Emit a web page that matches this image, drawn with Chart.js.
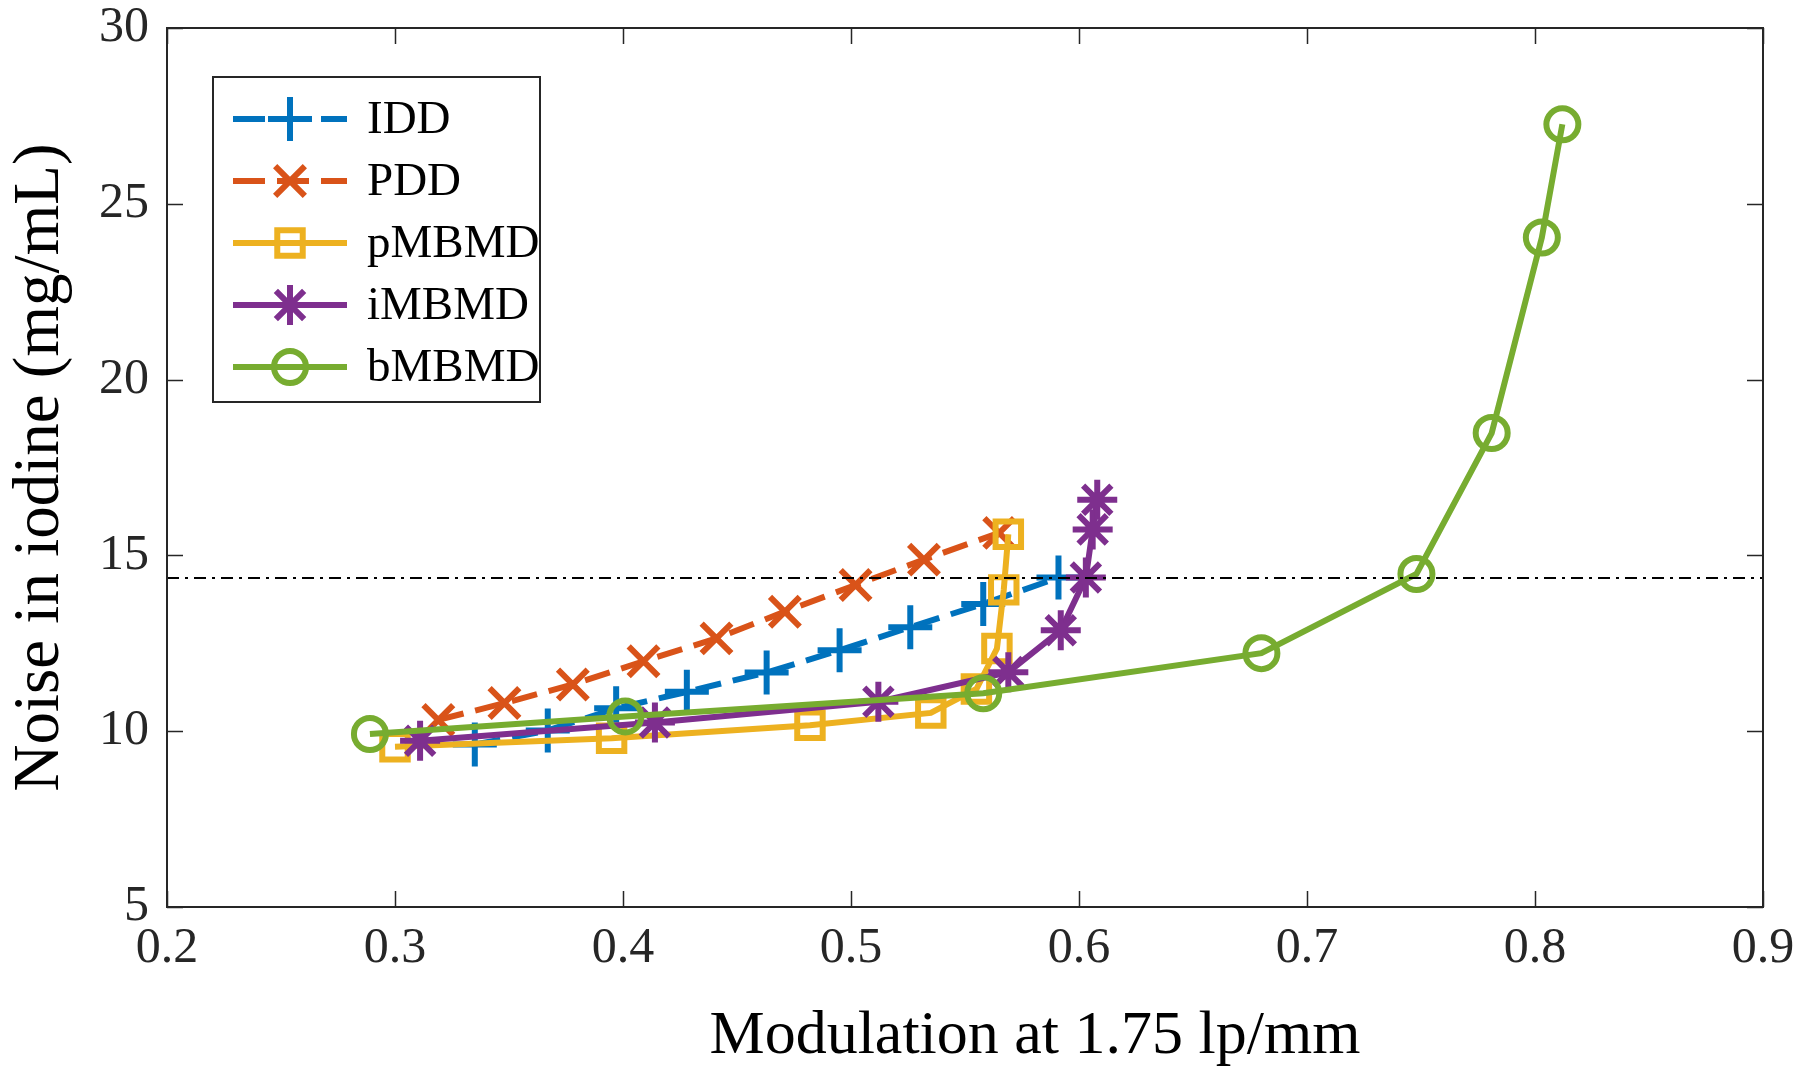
<!DOCTYPE html>
<html>
<head>
<meta charset="utf-8">
<script src="https://cdn.jsdelivr.net/npm/chart.js@4.4.0/dist/chart.umd.min.js"></script>
<style>
  html, body { margin: 0; padding: 0; background: #fff; }
</style>
</head>
<body>
<canvas id="noiseChart" width="1800" height="1078"></canvas>
<script>
// values (modulation at 1.75 lp/mm vs noise in iodine)
const seriesNames = ['IDD', 'PDD', 'pMBMD', 'iMBMD', 'bMBMD'];

const xIDD = [0.335, 0.367, 0.397, 0.428, 0.463, 0.495, 0.526, 0.558, 0.591];
const yIDD = [9.62, 10.02, 10.65, 11.12, 11.67, 12.30, 12.96, 13.62, 14.37];

const xPDD = [0.319, 0.348, 0.378, 0.409, 0.441, 0.471, 0.502, 0.532, 0.565];
const yPDD = [10.32, 10.80, 11.33, 11.99, 12.64, 13.40, 14.16, 14.88, 15.64];

const xPMBMD = [0.300, 0.395, 0.482, 0.535, 0.555, 0.564, 0.567, 0.569];
const yPMBMD = [9.56, 9.80, 10.17, 10.52, 11.20, 12.35, 14.02, 15.60];

const xIMBMD = [0.311, 0.414, 0.512, 0.569, 0.592, 0.603, 0.606, 0.608];
const yIMBMD = [9.73, 10.25, 10.84, 11.68, 12.87, 14.37, 15.74, 16.58];

const xBMBMD = [0.289, 0.401, 0.558, 0.680, 0.748, 0.781, 0.803, 0.812];
const yBMBMD = [9.92, 10.42, 11.08, 12.22, 14.47, 18.48, 24.04, 27.26];

const thresholdY = 14.36;
const xRange = [0.2, 0.9];
const yRange = [5, 30];

const FONT = '"Liberation Serif", "Times New Roman", serif';
const INK = '#262626';

function pts(xs, ys) {
    return xs.map((x, i) => ({ x: x, y: ys[i] }));
}

const styles = [
    { color: '#0072BD', point: 'cross',    radius: 22, dash: [26, 12] },
    { color: '#D95319', point: 'crossRot', radius: 21, dash: [26, 12] },
    { color: '#EDB120', point: 'rect',     radius: 18, dash: [] },
    { color: '#7E2F8E', point: 'star',     radius: 20, dash: [] },
    { color: '#77AC30', point: 'circle',   radius: 16, dash: [] }
];
const seriesData = [pts(xIDD, yIDD), pts(xPDD, yPDD), pts(xPMBMD, yPMBMD), pts(xIMBMD, yIMBMD), pts(xBMBMD, yBMBMD)];

const datasets = seriesNames.map((name, i) => ({
    label: name,
    data: seriesData[i],
    showLine: true,
    borderColor: styles[i].color,
    backgroundColor: 'rgba(0,0,0,0)',
    borderWidth: 6,
    borderDash: styles[i].dash,
    pointStyle: styles[i].point,
    pointRadius: styles[i].radius,
    pointBorderWidth: 6,
    pointBorderColor: styles[i].color,
    pointBackgroundColor: 'rgba(0,0,0,0)',
    order: 5 - i
}));

// horizontal dash-dot reference line
datasets.push({
    label: 'threshold',
    data: [{ x: xRange[0], y: thresholdY }, { x: xRange[1], y: thresholdY }],
    showLine: true,
    borderColor: '#000',
    borderWidth: 2,
    borderDash: [12, 6, 3, 6],
    pointRadius: 0,
    order: 0
});

// box, inward ticks, x title and legend drawn like the MATLAB figure
const matlabAxes = {
    id: 'matlabAxes',
    afterDraw(chart) {
        const ctx = chart.ctx;
        const ca = chart.chartArea;
        const xs = chart.scales.x, ys = chart.scales.y;
        ctx.save();
        ctx.strokeStyle = INK;
        ctx.lineWidth = 2;
        ctx.setLineDash([]);
        ctx.strokeRect(ca.left, ca.top, ca.right - ca.left, ca.bottom - ca.top);
        const tl = 16;
        ctx.beginPath();
        xs.ticks.forEach(t => {
            const px = Math.round(xs.getPixelForValue(t.value)) + 0.5;
            ctx.moveTo(px, ca.bottom); ctx.lineTo(px, ca.bottom - tl);
            ctx.moveTo(px, ca.top); ctx.lineTo(px, ca.top + tl);
        });
        ys.ticks.forEach(t => {
            const py = Math.round(ys.getPixelForValue(t.value)) + 0.5;
            ctx.moveTo(ca.left, py); ctx.lineTo(ca.left + tl, py);
            ctx.moveTo(ca.right, py); ctx.lineTo(ca.right - tl, py);
        });
        ctx.lineWidth = 1.5;
        ctx.stroke();

        // x axis title (sits right of centre in the original)
        ctx.fillStyle = '#000';
        ctx.font = '62px ' + FONT;
        ctx.textAlign = 'center';
        ctx.textBaseline = 'middle';
        ctx.fillText('Modulation at 1.75 lp/mm', (ca.left + ca.right) / 2 + 70, ca.bottom + 130);

        // legend
        const bx = ca.left + 46, by = ca.top + 49, bw = 327, bh = 325;
        ctx.fillStyle = '#fff';
        ctx.fillRect(bx, by, bw, bh);
        ctx.strokeStyle = INK;
        ctx.lineWidth = 2;
        ctx.strokeRect(bx, by, bw, bh);
        seriesNames.forEach((name, i) => {
            const cy = by + 42 + i * 62;
            const st = styles[i];
            ctx.strokeStyle = st.color;
            ctx.lineWidth = 6;
            ctx.setLineDash(st.dash.length ? [32, 12] : []);
            ctx.beginPath();
            ctx.moveTo(bx + 20, cy);
            ctx.lineTo(bx + 134, cy);
            ctx.stroke();
            ctx.setLineDash([]);
            ctx.fillStyle = 'rgba(0,0,0,0)';
            Chart.helpers.drawPoint(ctx, { pointStyle: st.point, radius: st.radius, borderWidth: 6, rotation: 0 }, bx + 77, cy);
            ctx.fillStyle = '#000';
            ctx.font = '47px ' + FONT;
            ctx.textAlign = 'left';
            ctx.textBaseline = 'middle';
            ctx.fillText(name, bx + 154, cy + 2);
        });
        ctx.restore();
    }
};

const chart = new Chart(document.getElementById('noiseChart').getContext('2d'), {
    type: 'scatter',
    data: { datasets: datasets },
    options: {
        responsive: false,
        animation: false,
        devicePixelRatio: 1,
        layout: { padding: { top: 22, right: 37, left: 0, bottom: 0 } },
        plugins: {
            legend: { display: false },
            tooltip: { enabled: false }
        },
        scales: {
            x: {
                type: 'linear',
                min: xRange[0],
                max: xRange[1],
                grid: { display: false, drawTicks: false },
                border: { display: false },
                ticks: {
                    stepSize: 0.1,
                    padding: 12,
                    color: INK,
                    font: { family: FONT, size: 50 },
                    callback: v => v.toFixed(1)
                },
                afterFit: s => { s.height = 171; s.paddingLeft = 0; s.paddingRight = 0; }
            },
            y: {
                type: 'linear',
                min: yRange[0],
                max: yRange[1],
                grid: { display: false, drawTicks: false },
                border: { display: false },
                ticks: {
                    stepSize: 5,
                    padding: 18,
                    color: INK,
                    font: { family: FONT, size: 50 }
                },
                title: {
                    display: true,
                    text: 'Noise in iodine (mg/mL)',
                    color: '#000',
                    font: { family: FONT, size: 65 },
                    padding: { top: 2, bottom: 0 }
                },
                afterFit: s => { s.width = 167; s.paddingTop = 0; s.paddingBottom = 0; }
            }
        }
    },
    plugins: [matlabAxes]
});
</script>
</body>
</html>
